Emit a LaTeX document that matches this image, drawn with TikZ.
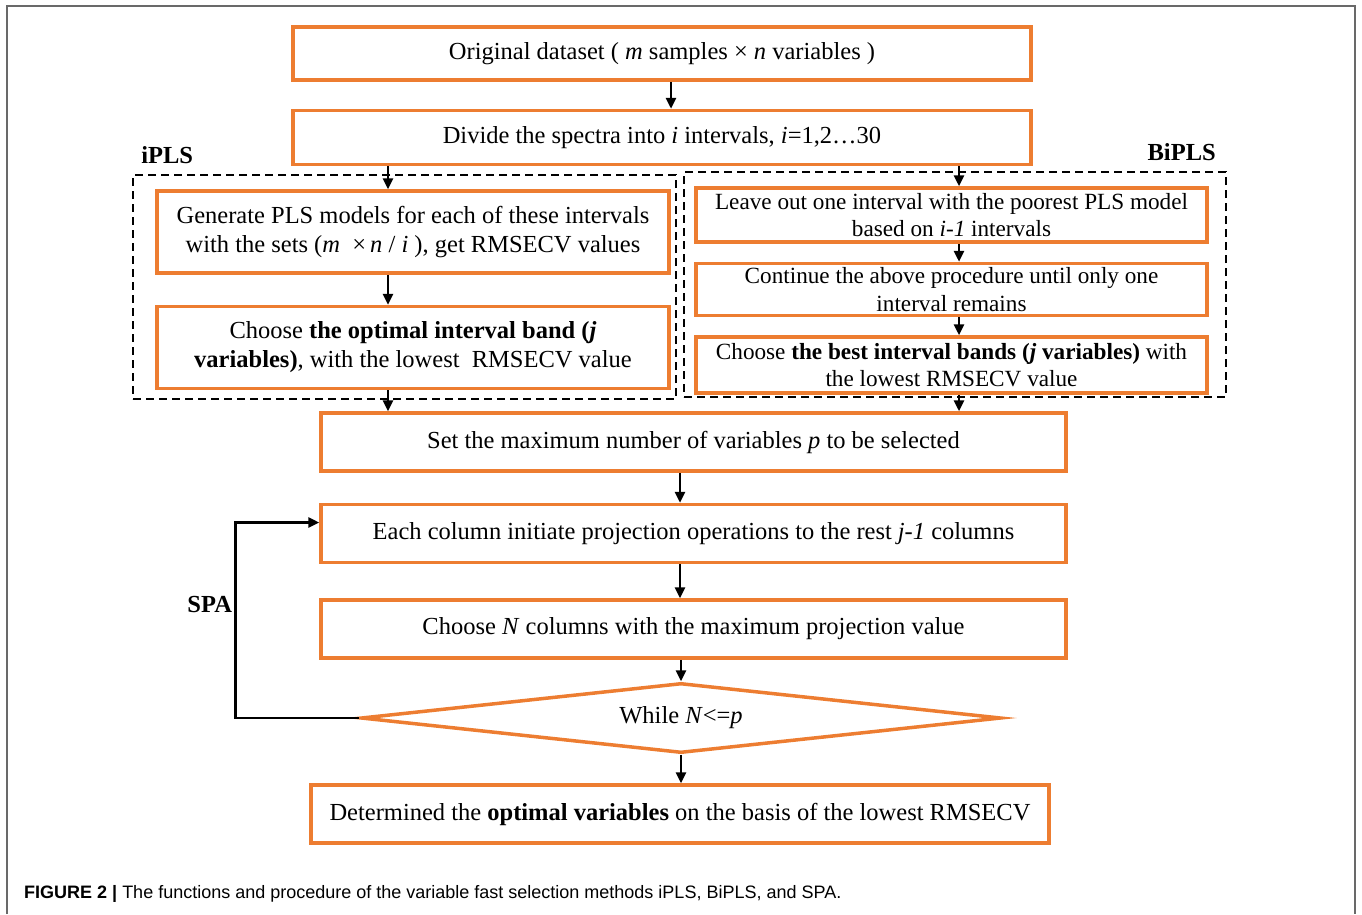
\documentclass[tikz,border=0pt]{standalone}
\usepackage{xcolor}
\usepackage{fontspec}
\setmainfont{Liberation Serif}
\newfontfamily\capfont{Liberation Sans}
\usepackage{tikz}
\usetikzlibrary{shapes.geometric,arrows.meta,positioning}
\definecolor{boxorange}{RGB}{237,125,49}
\definecolor{framegray}{RGB}{105,105,105}

\begin{document}
\begin{tikzpicture}[x=1pt, y=-1pt, node distance=30pt,
  every node/.style={font=\fontsize{24.5}{29}\selectfont},
  stepbox/.style={rectangle,draw=boxorange,fill=white,line width=3.5pt,align=center,inner sep=2pt,minimum width=745pt,minimum height=58pt},
  sidebox/.style={stepbox,minimum width=512pt,minimum height=82pt},
  bibox/.style={stepbox,minimum width=511pt,minimum height=54pt,font=\fontsize{23.2}{27.5}\selectfont},
  decision/.style={diamond,draw=boxorange,fill=white,line width=3.5pt,inner sep=0pt,aspect=8.9,minimum width=640pt,minimum height=70pt},
  groupbox/.style={rectangle,draw=black,dashed,dash pattern=on 8pt off 5pt,line width=1.8pt,minimum width=543pt,minimum height=224pt},
  grouplabel/.style={inner sep=0pt,font=\bfseries\fontsize{24.5}{29}\selectfont},
  arrow/.style={draw=black,line width=2.6pt,-{Triangle[width=10pt,length=11pt]}}]

  \useasboundingbox (0,0) rectangle (1362,914);
  \draw[framegray,line width=2pt] (7,914) -- (7,6) -- (1355,6) -- (1355,914);

  \coordinate (lcol) at (388,0);
  \coordinate (rcol) at (959,0);
  \coordinate (mcol) at (680,0);

  \node[groupbox] (ipls) at (404.5,287) {};
  \node[groupbox,minimum width=542pt,minimum height=225pt] (bipls) at (955,284.5) {};
  \node[grouplabel,above right=10pt and 9pt of ipls.north west] (iplslab) {iPLS};
  \node[grouplabel,above left=10pt and 11pt of bipls.north east] (biplslab) {BiPLS};

  \node[stepbox,minimum width=738pt,minimum height=53pt] (orig) at (662,53.5) {Original dataset ( \textit{m} samples × \textit{n} variables )};
  \node[stepbox,minimum width=738pt,minimum height=54pt,below=27pt of orig] (divide) {Divide the spectra into \textit{i} intervals, \textit{i}=1,2…30};

  \node[sidebox] (genpls) at (413,232) {Generate PLS models for each of these intervals\\with the sets (\textit{m}~ ×\,\textit{n} / \textit{i} ), get RMSECV values};
  \node[sidebox,below=of genpls] (optband) {Choose \textbf{the optimal interval band (\textit{j}}\\\textbf{variables)}, with the lowest~ RMSECV value};

  \node[bibox] (leaveout) at (951.5,215) {Leave out one interval with the poorest PLS model\\based on \textit{i-1} intervals};
  \node[bibox,minimum height=52pt,below=18pt of leaveout] (contin) {Continue the above procedure until only one\\interval remains};
  \node[bibox,minimum height=56pt,below=18pt of contin] (bestband) {Choose \textbf{the best interval bands (\textit{j} variables)} with\\the lowest RMSECV value};

  \node[stepbox] (setp) at (693.5,442) {Set the maximum number of variables \textit{p} to be selected};
  \node[stepbox,below=of setp] (eachcol) {Each column initiate projection operations to the rest \textit{j-1} columns};
  \node[stepbox,below=34pt of eachcol] (choosen) {Choose \textit{N} columns with the maximum projection value};
  \node[decision] (whilen) at (681,718) {While \textit{N}<=\textit{p}};
  \node[stepbox,minimum width=738pt] (final) at (680,814) {Determined the \textbf{optimal variables} on the basis of the lowest RMSECV};

  \draw[arrow] ([xshift=9pt]orig.south) -- ([xshift=9pt]divide.north);
  \draw[arrow] (divide.south -| lcol) -- (genpls.north -| lcol);
  \draw[arrow] (genpls.south -| lcol) -- (optband.north -| lcol);
  \draw[arrow] (optband.south -| lcol) -- (setp.north -| lcol);
  \draw[arrow] (divide.south -| rcol) -- (leaveout.north -| rcol);
  \draw[arrow] (leaveout.south -| rcol) -- (contin.north -| rcol);
  \draw[arrow] (contin.south -| rcol) -- (bestband.north -| rcol);
  \draw[arrow] (bestband.south -| rcol) -- (setp.north -| rcol);
  \draw[arrow] (setp.south -| mcol) -- (eachcol.north -| mcol);
  \draw[arrow] (eachcol.south -| mcol) -- (choosen.north -| mcol);
  \draw[arrow] (choosen.south -| whilen.north) -- (whilen.north);
  \draw[arrow] (whilen.south) -- (final.north -| whilen.south);
  \draw[arrow] (whilen.west) -- ++(-124,0) |- ([yshift=11pt]eachcol.west)
    node[grouplabel,pos=0.29,left=2pt] (spalab) {SPA};

  \node[anchor=base west,inner sep=0pt,font=\capfont\fontsize{18}{21}\selectfont] (caption) at (24,898)
    {\textbf{FIGURE 2 |} The functions and procedure of the variable fast selection methods iPLS, BiPLS, and SPA.};
\end{tikzpicture}
\end{document}
